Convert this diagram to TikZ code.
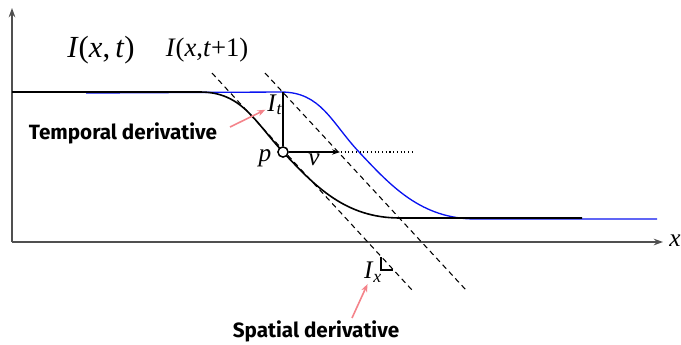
\documentclass[tikz,border=0pt]{standalone}
\usepackage{fontspec}
\setmainfont{Liberation Serif}
\setsansfont{Fira Sans}
\usetikzlibrary{arrows.meta}
\definecolor{axisgray}{HTML}{505050}
\definecolor{notepink}{HTML}{F4838A}
\definecolor{curveblue}{HTML}{0A14F0}

\begin{document}
\begin{tikzpicture}[x=0.75pt, y=-0.75pt, line width=0.9pt,
  big/.style={inner sep=1pt, font=\fontsize{23}{26}\selectfont},
  mid/.style={inner sep=1pt, font=\fontsize{20}{23}\selectfont},
  sym/.style={inner sep=1pt, font=\fontsize{19}{22}\selectfont},
  note/.style={inner sep=1pt, font=\sffamily\bfseries\fontsize{15.5}{18}\selectfont},
  axis/.style={draw=axisgray, line width=1.1pt, -{Stealth[length=7pt,width=5pt]}},
  tangent/.style={line width=0.8pt, dash pattern=on 4pt off 3pt},
  pointer/.style={draw=notepink, line width=1.2pt, -{Stealth[length=6pt,width=4.5pt]}},
  pt/.style={circle, draw, fill=white, line width=1pt, minimum size=7.5pt, inner sep=0pt}]
  \useasboundingbox (0,0) rectangle (681,344);
  % axes
  \coordinate (o) at (12,242);
  \coordinate (ytop) at (12,8);
  \coordinate (xend) at (663,242);
  \draw[axis] (o) -- (ytop);
  \draw[axis] (o) -- (xend);
  \node[sym] (xlbl) at (675,241) {\textit{x}};
  % image profile at t+1 (blue) and at t (black)
  \draw[curveblue, line width=1pt] (86,93) -- (281,92)
    .. controls (321,92) and (331,122) .. (359,152)
    .. controls (391,186) and (421,219) .. (476,219) -- (657,219);
  \draw[line width=1.2pt] (12,92) -- (200,92)
    .. controls (242,92) and (255,122) .. (283,152)
    .. controls (315,186) and (345,218) .. (400,218) -- (582,218);
  % tangent lines
  \coordinate (ta1) at (212,73);
  \coordinate (ta2) at (412,290);
  \coordinate (tb1) at (265,73);
  \coordinate (tb2) at (466,290);
  \draw[tangent] (ta1) -- (ta2);
  \draw[tangent] (tb1) -- (tb2);
  % point p, temporal step and velocity
  \coordinate (ptop) at (283,92);
  \coordinate (vend) at (340,152);
  \coordinate (dend) at (415,152);
  \node[pt] (p) at (283,152) {};
  \draw[line width=1.2pt] (ptop) -- (p);
  \draw[dotted, line width=0.8pt] (p) -- (dend);
  \draw[line width=1pt, -{Stealth[length=6pt,width=4pt]}] (p) -- (vend);
  \node[pt] at (p) {};
  % right angle mark
  \draw[line width=1.2pt] (381,257) -- (381,270) -- (393,270);
  % labels
  \node[big] (ixt) at (101,50) {\textit{I}(\textit{x},\,\textit{t})};
  \node[mid] (ixt1) at (207,50) {\textit{I}(\textit{x},\textit{t}+1)};
  \node[sym] (it) at (275,105) {\textit{I}\textsubscript{\textit{t}}};
  \node[sym] (plbl) at (265,158) {\textit{p}};
  \node[sym] (vlbl) at (314,160) {\textit{v}};
  \node[sym] (ix) at (373,272) {\textit{I}\textsubscript{\textit{x}}};
  \node[note] (temporal) at (123,133) {Temporal derivative};
  \node[note] (spatial) at (316,331) {Spatial derivative};
  \coordinate (tp) at (230,127);
  \coordinate (sp) at (352,318);
  \draw[pointer] (tp) -- (it);
  \draw[pointer] (sp) -- (ix);
\end{tikzpicture}
\end{document}
